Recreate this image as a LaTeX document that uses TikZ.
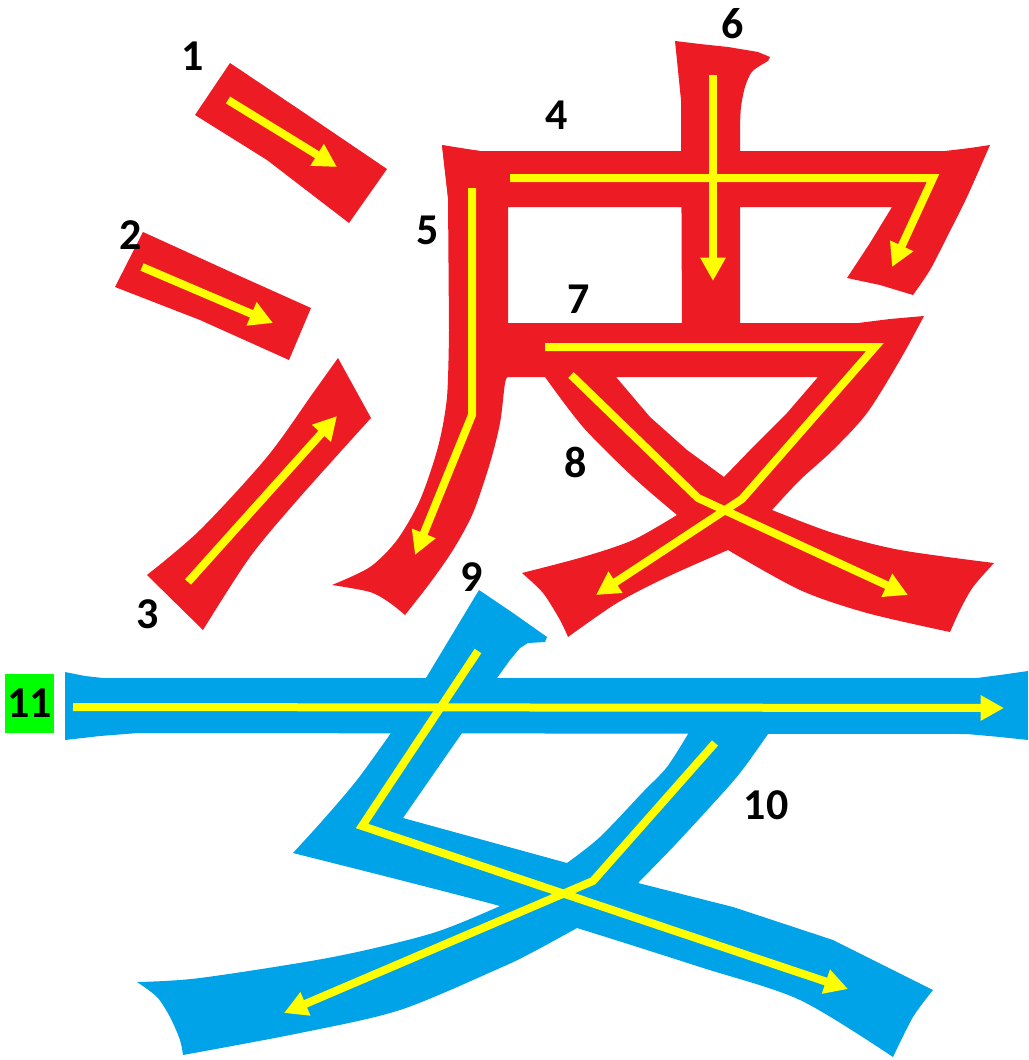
\documentclass[tikz,border=0pt]{standalone}
\usepackage{fontspec}
\setmainfont{Carlito}
\usetikzlibrary{arrows.meta}
\definecolor{redc}{HTML}{ED1C24}
\definecolor{bluec}{HTML}{00A2E8}
\definecolor{yel}{HTML}{FFFF00}
\definecolor{greenc}{HTML}{00FF00}
\begin{document}
\begin{tikzpicture}[x=0.75pt,y=-0.75pt,
  yarrow/.style={draw=yel, line width=6pt, -{Triangle[length=17.5pt,width=18pt]}},
  lab/.style={font=\fontsize{33pt}{33pt}\selectfont\bfseries, inner sep=0pt, text=black},
  redfill/.style={fill=redc},
  bluefill/.style={fill=bluec}]
\useasboundingbox (0,0) rectangle (1028,1060);

% ---------- red strokes (water radical) ----------
\fill[redfill] (230,63) -- (300,110) -- (387,169) -- (349,223) -- (267,160) -- (195,115) -- cycle;
\fill[redfill] (143,232) -- (233,273) -- (311,308) -- (289,360) -- (200,320) -- (115,287) -- cycle;
\fill[redfill] (338,358) -- (371,418) -- plot[smooth] coordinates {(371,418) (300,497) (250,557) (203,630)}
  -- (147,575) -- plot[smooth] coordinates {(147,575) (200,530) (267,457) (313,393) (338,358)} -- cycle;

% ---------- red strokes (pi) ----------
% stroke 4
\fill[redfill] (442,145) -- (462,149) -- (480,151) -- (945,151) -- (970,148) -- (990,145)
  -- plot[smooth] coordinates {(990,145) (967,197) (947,237) (930,270) (913,295)}
  -- (880,285) -- (847,278) -- (870,243) -- (892,207) -- (449,207) -- cycle;
% stroke 5
\fill[redfill] (442,145) -- (448,197)
  -- plot[smooth] coordinates {(449,330) (447,397) (438,447) (420,500) (397,540) (370,567) (332,585)}
  -- plot[smooth] coordinates {(332,585) (370,592) (390,603) (405,615)}
  -- plot[smooth] coordinates {(405,615) (430,583) (453,550) (473,513) (490,463) (500,423) (505,383) (508,377)}
  -- (508,151) -- (480,151) -- cycle;
% stroke 6
\fill[redfill] (675,41) -- (700,44) -- (728,47) -- (758,52) -- (770,57) -- (768,61)
  -- plot[smooth] coordinates {(768,61) (758,67) (751,73) (745,87) (741,107) (740,127)}
  -- (740,330) -- (682,330) -- (681,100) -- cycle;
% strokes 7 and 8
\fill[redfill, even odd rule] (508,323) -- (858,323) -- (890,319) -- (924,316)
  -- plot[smooth] coordinates {(924,316) (900,360) (867,413) (833,450) (800,480) (772,510)}
  -- plot[smooth] coordinates {(772,510) (833,533) (900,550) (994,563)}
  -- plot[smooth] coordinates {(994,563) (973,587) (960,610) (950,632)}
  -- plot[smooth] coordinates {(950,632) (867,613) (800,590) (728,550)}
  -- plot[smooth] coordinates {(728,550) (667,577) (617,603) (568,637)}
  -- plot[smooth] coordinates {(568,637) (560,620) (543,593) (522,573)}
  -- plot[smooth] coordinates {(522,573) (583,557) (633,540) (677,515)}
  -- plot[smooth] coordinates {(677,515) (633,477) (583,427) (545,377)}
  -- (508,377) -- cycle
  (616,377) -- (650,417) -- (687,450) -- (724,477) -- (753,447) -- (787,413) -- (818,377) -- cycle;

% ---------- blue strokes (woman) ----------
% stroke 11
\fill[bluefill] (65,672) -- (85,676) -- (103,678) -- (977,678) -- (1000,675) -- (1028,671)
  -- (1028,740) -- (1000,737) -- (967,734) -- (138,733) -- (100,736) -- (65,740) -- cycle;
% stroke 9
\fill[bluefill] (479,590) -- (513,613) -- (547,637) -- (545,642) -- (528,643) -- (520,648) -- (510,660) -- (497,678)
  -- (462,733) -- (403,818) -- (567,863) -- (638,883) -- (733,907) -- (833,940) -- (933,990)
  -- plot[smooth] coordinates {(933,990) (913,1017) (893,1057)}
  -- plot[smooth] coordinates {(893,1057) (800,1000) (700,967) (577,928) (500,906) (400,880) (293,853)}
  -- plot[smooth] coordinates {(293,853) (323,820) (357,780) (391,733)}
  -- (426,678) -- cycle;
% stroke 10
\fill[bluefill] (688,730) -- (768,730)
  -- plot[smooth] coordinates {(768,734) (740,773) (710,807) (673,847) (638,883)}
  -- (577,928)
  -- plot[smooth] coordinates {(577,928) (533,952) (500,968) (400,1010) (300,1033) (183,1055)}
  -- plot[smooth] coordinates {(183,1055) (180,1040) (170,1017) (157,997) (137,982)}
  -- plot[smooth] coordinates {(137,982) (200,978) (333,957) (433,933) (500,906)}
  -- (567,863)
  -- plot[smooth] coordinates {(567,863) (600,837) (643,792) (667,767) (688,734)} -- cycle;

% ---------- yellow arrows ----------
\draw[yarrow] (228,100) -- (337,167);
\draw[yarrow] (142,267) -- (273,323);
\draw[yarrow] (188,582) -- (337,416);
\draw[yarrow] (510,178) -- (933,178) -- (892,267);
\draw[yarrow] (472,188) -- (472,415) -- (415,555);
\draw[yarrow] (713,75) -- (713,281);
\draw[yarrow] (545,347) -- (875,347) -- (742,499) -- (596,595);
\draw[yarrow] (571,375) -- (698,498) -- (908,595);
\draw[yarrow] (478,651) -- (362,826) -- (848,989);
\draw[yarrow] (715,743) -- (593,881) -- (284,1013);
\draw[yarrow] (73,707) -- (1004,708);

% ---------- labels ----------
\node[lab] (n1) at (193,56) {1};
\node[lab] (n2) at (131,235) {2};
\node[lab] (n3) at (148,614) {3};
\node[lab] (n4) at (557,115) {4};
\node[lab] (n5) at (428,230) {5};
\node[lab] (n6) at (733,24) {6};
\node[lab] (n7) at (579,299) {7};
\node[lab] (n8) at (576,462) {8};
\node[lab] (n9) at (472,577) {9};
\node[lab] (n10) at (766,805) {10};
\node[lab, fill=greenc, minimum width=36.75pt, minimum height=44pt] (n11) at (29.5,703.5) {11};
\end{tikzpicture}
\end{document}
